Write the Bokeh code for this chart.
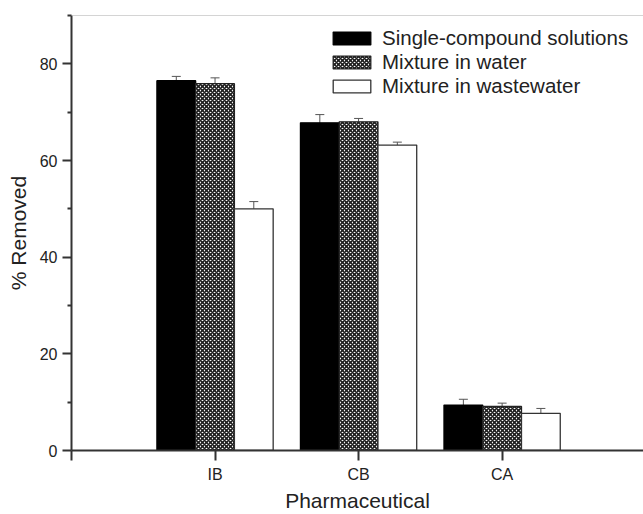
import numpy as np
from bokeh.plotting import figure
from bokeh.models import (ColumnDataSource, Range1d, FixedTicker, Whisker, TeeHead,
                          Legend, LegendItem, Span)
from bokeh.embed import file_html
from bokeh.resources import INLINE

categories = ["IB", "CB", "CA"]
single = [76.5, 67.8, 9.4]
single_err = [0.9, 1.7, 1.2]
water = [75.9, 68.0, 9.1]
water_err = [1.2, 0.7, 0.7]
wastewater = [50.0, 63.2, 7.7]
wastewater_err = [1.5, 0.6, 1.0]
series_names = ["Single-compound solutions", "Mixture in water", "Mixture in wastewater"]
y_ticks = [0, 20, 40, 60, 80]
y_minor = [10, 30, 50, 70, 90]

FONT = "Liberation Sans"
BW = 0.27
base = np.arange(1, len(categories) + 1)

p = figure(width=643, height=514, output_backend="svg", toolbar_location=None,
           x_range=Range1d(0, 3.985), y_range=Range1d(0, 90),
           min_border_left=71, min_border_right=0, min_border_top=15, min_border_bottom=64)
p.outline_line_color = None
p.xgrid.visible = False
p.ygrid.visible = False

styles = [
    dict(fill_color="black", line_color="black"),
    dict(fill_color="white", line_color="#222222", hatch_pattern="x",
         hatch_color="#1e1e1e", hatch_scale=4, hatch_weight=1.6),
    dict(fill_color="white", line_color="#333333"),
]
vals = [single, water, wastewater]
errs = [single_err, water_err, wastewater_err]
renderers = []
for i, (v, e, st) in enumerate(zip(vals, errs, styles)):
    x = base + (i - 1) * BW
    src = ColumnDataSource(dict(x=x, top=v, upper=np.array(v) + np.array(e),
                                lower=np.array(v) - np.array(e)))
    r = p.vbar(x="x", top="top", bottom=0, width=BW, source=src, line_width=1.3, **st)
    renderers.append(r)
    w = Whisker(source=src, base="x", upper="upper", lower="lower",
                line_color="#555555", line_width=1,
                upper_head=TeeHead(size=9, line_color="#555555", line_width=1),
                lower_head=TeeHead(size=9, line_color="#555555", line_width=1))
    p.add_layout(w)

p.add_layout(Span(location=90, dimension="width", line_color="#aaaaaa", line_width=1))

# x axis
p.xaxis.ticker = FixedTicker(ticks=[0, 1, 2, 3, 4])
p.xaxis.major_label_overrides = {0: "", 1: categories[0], 2: categories[1], 3: categories[2], 4: ""}
p.xaxis.minor_tick_line_color = None
p.xaxis.major_tick_in = 0
p.xaxis.major_tick_out = 10
p.xaxis.major_tick_line_width = 2
p.xaxis.axis_line_width = 2
p.xaxis.axis_label = "Pharmaceutical"
p.xaxis.axis_label_standoff = 3
p.xaxis.major_label_standoff = 5

# y axis
p.yaxis.ticker = FixedTicker(ticks=y_ticks, minor_ticks=y_minor)
p.yaxis.major_tick_in = 0
p.yaxis.major_tick_out = 9
p.yaxis.minor_tick_in = 0
p.yaxis.minor_tick_out = 4
p.yaxis.major_tick_line_width = 2
p.yaxis.minor_tick_line_width = 2
p.yaxis.axis_line_width = 2
p.yaxis.axis_label = "% Removed"
p.yaxis.axis_label_standoff = 7
p.yaxis.major_label_standoff = 5

for ax in (p.xaxis, p.yaxis):
    ax.axis_line_color = "#333333"
    ax.major_tick_line_color = "#333333"
    ax.major_label_text_font = FONT
    ax.major_label_text_font_size = "16px"
    ax.major_label_text_color = "#222222"
    ax.axis_label_text_font = FONT
    ax.axis_label_text_font_size = "21px"
    ax.axis_label_text_font_style = "normal"
    ax.axis_label_text_color = "#222222"
p.yaxis.minor_tick_line_color = "#333333"

legend = Legend(items=[LegendItem(label=n, renderers=[r]) for n, r in zip(series_names, renderers)],
                location=(257, 352), orientation="vertical",
                glyph_width=47, glyph_height=16, label_height=16, spacing=0,
                padding=0, margin=0, label_standoff=7,
                border_line_color=None, background_fill_alpha=0,
                label_text_font=FONT, label_text_font_size="20.5px", label_text_color="#222222")
p.add_layout(legend, "center")

open("out.html", "w").write(file_html(p, INLINE))
